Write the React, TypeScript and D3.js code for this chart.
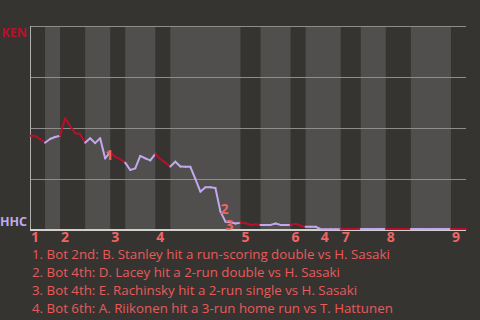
import React from "react";
import * as d3 from "d3";

// KEN win probability after each plate appearance (index 0 = start of game)
const winProb: number[] = [
  0.462, 0.462, 0.446, 0.428, // top 1st
  0.446, 0.456, 0.462, // bot 1st
  0.548, 0.51, 0.475, 0.471, 0.428, // top 2nd
  0.45, 0.426, 0.45, 0.351, 0.382, // bot 2nd
  0.359, 0.347, 0.33, // top 3rd
  0.294, 0.302, 0.363, 0.351, 0.341, 0.373, // bot 3rd
  0.348, 0.33, 0.311, // top 4th
  0.335, 0.311, 0.31, 0.31, 0.25, 0.188, 0.209, 0.209, 0.206, 0.09, 0.041, 0.038, 0.032, 0.036, // bot 4th
  0.033, 0.025, 0.028, 0.025, // top 5th
  0.025, 0.025, 0.032, 0.025, 0.025, 0.025, // bot 5th
  0.031, 0.021, 0.016, // top 6th
  0.016, 0.016, 0.004, 0.004, 0.004, 0.004, 0.004, // bot 6th
  0.005, 0.005, 0.005, 0.005, // top 7th
  0.005, 0.005, 0.005, 0.005, 0.005, // bot 7th
  0.005, 0.005, 0.005, 0.005, 0.005, // top 8th
  0.005, 0.005, 0.005, 0.005, 0.005, 0.005, 0.005, 0.005, // bot 8th
  0.005, 0.005, 0.005, // top 9th
];

// plate appearances per half inning (top 1st, bot 1st, ...)
const halfInningPAs: number[] = [3, 3, 5, 5, 3, 6, 3, 14, 4, 6, 3, 7, 4, 5, 5, 8, 3];
const inningLabels: string[] = ["1", "2", "3", "4", "5", "6", "7", "8", "9"];

const yTicks: number[] = [0, 0.25, 0.5, 0.75, 1];
const awayTeam = "KEN";
const homeTeam = "HHC";

const eventPlays: number[] = [15, 38, 39, 58];
const eventLabels: string[] = ["1", "2", "3", "4"];
const eventDy: number[] = [-3, -3, 3, 8];
const eventTexts: string[] = [
  "1. Bot 2nd: B. Stanley hit a run-scoring double vs H. Sasaki",
  "2. Bot 4th: D. Lacey hit a 2-run double vs H. Sasaki",
  "3. Bot 4th: E. Rachinsky hit a 2-run single vs H. Sasaki",
  "4. Bot 6th: A. Riikonen hit a 3-run home run vs T. Hattunen",
];

const W = 480;
const H = 320;
const BG = "#363430";
const BAND = "#504f4d";
const RED = "#b8102c";
const LAV = "#c3a8ee";
const SALMON = "#f06464";
const FONT = "'Open Sans', 'Noto Sans', sans-serif";

export default function App() {
  const left = 30, right = 466, top = 26, bottom = 230;
  const nPlays = winProb.length - 1;
  const x = d3.scaleLinear().domain([0, nPlays]).range([left, right]);
  const y = d3.scaleLinear().domain([0, 1]).range([bottom, top]);

  const cum = d3.cumsum(halfInningPAs);
  const starts = halfInningPAs.map((_, i) => (i === 0 ? 0 : cum[i - 1]));

  const halfOf = (play: number) => {
    for (let h = 0; h < cum.length; h++) if (play <= cum[h]) return h;
    return cum.length - 1;
  };

  const seg = d3
    .line<[number, number]>()
    .x((p) => x(p[0]))
    .y((p) => y(p[1]));

  const segs: { d: string; color: string }[] = [];
  for (let i = 1; i <= nPlays; i++) {
    const h = halfOf(i);
    segs.push({
      d: seg([
        [i - 1, winProb[i - 1]],
        [i, winProb[i]],
      ]) || "",
      color: h % 2 === 0 ? RED : LAV,
    });
  }

  return (
    <div style={{ position: "fixed", left: 0, top: 0 }}>
      <svg width={W} height={H} style={{ display: "block" }}>
        <rect x={0} y={0} width={W} height={H} fill={BG} />
        {halfInningPAs.map((n, h) =>
          h % 2 === 1 ? (
            <rect
              key={"b" + h}
              x={x(starts[h])}
              y={top}
              width={x(starts[h] + n) - x(starts[h])}
              height={bottom - top}
              fill={BAND}
            />
          ) : null
        )}
        {yTicks.slice(1).map((t) => (
          <line
            key={"g" + t}
            x1={left}
            x2={right}
            y1={y(t)}
            y2={y(t)}
            stroke="#8e8d8b"
            strokeWidth={1}
            shapeRendering="crispEdges"
          />
        ))}
        <line x1={left} x2={left} y1={top} y2={bottom} stroke="#b0b0ae" strokeWidth={1} shapeRendering="crispEdges" />
        <line x1={left} x2={right} y1={bottom} y2={bottom} stroke="#d0d0ce" strokeWidth={1.5} shapeRendering="crispEdges" />
        {segs.map((s, i) => (
          <path key={"s" + i} d={s.d} stroke={s.color} strokeWidth={2} fill="none" strokeLinecap="round" strokeLinejoin="round" />
        ))}
        <text x={27} y={y(1) + 11} fill={RED} fontFamily={FONT} fontWeight="bold" fontSize={12.5} textAnchor="end">
          {awayTeam}
        </text>
        <text x={27} y={y(0) - 4} fill={LAV} fontFamily={FONT} fontWeight="bold" fontSize={12.5} textAnchor="end">
          {homeTeam}
        </text>
        {inningLabels.map((lab, k) => (
          <text key={"i" + k} x={x(starts[k * 2]) + 1} y={242} fill={SALMON} fontFamily={FONT} fontWeight="bold" fontSize={14}>
            {lab}
          </text>
        ))}
        {eventPlays.map((p, k) => (
          <text
            key={"e" + k}
            x={x(p)}
            y={y(winProb[p]) + eventDy[k]}
            dy="0.35em"
            fill={SALMON}
            fontFamily={FONT}
            fontWeight="bold"
            fontSize={14}
          >
            {eventLabels[k]}
          </text>
        ))}
        {eventTexts.map((t, k) => (
          <text key={"t" + k} x={32} y={259 + k * 18} fill="#e85a5c" fontFamily={FONT} fontSize={13.3}>
            {t}
          </text>
        ))}
      </svg>
    </div>
  );
}
